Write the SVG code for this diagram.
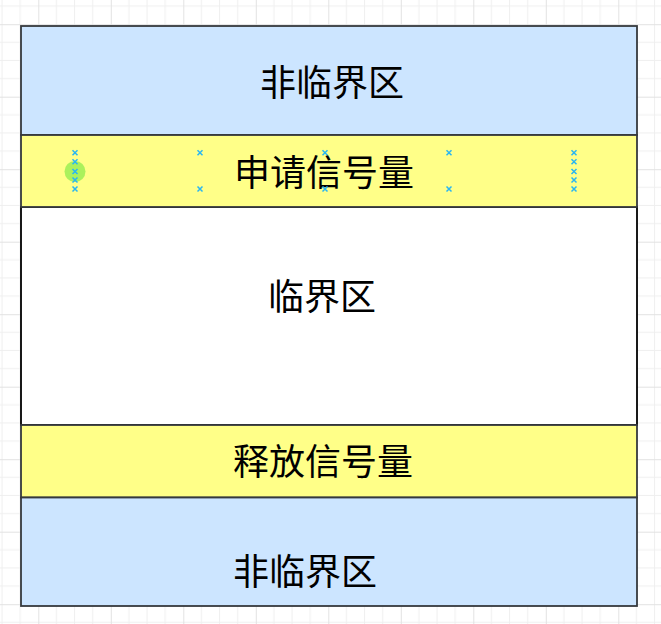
<svg xmlns="http://www.w3.org/2000/svg" width="661" height="624" viewBox="0 0 661 624">
  <defs>
    <pattern id="grid" patternUnits="userSpaceOnUse" x="38.3" y="24.2" width="72.5" height="72.5">
      <path d="M18.125 0V72.5M36.25 0V72.5M54.375 0V72.5M0 18.125H72.5M0 36.25H72.5M0 54.375H72.5" stroke="#efefef" stroke-width="1" fill="none"/>
      <path d="M0.5 0V72.5M0 0.5H72.5" stroke="#e2e2e2" stroke-width="1" fill="none"/>
    </pattern>
    <g id="x">
      <path d="M-2.5 -2.5L2.5 2.5M-2.5 2.5L2.5 -2.5" stroke="#29b6f2" stroke-width="1.5" fill="none"/>
    </g>
  </defs>
  <style>
    .blue { fill: #cce5ff; stroke: #36393d; stroke-width: 1.8; }
    .yellow { fill: #ffff88; stroke: #36393d; stroke-width: 1.8; }
    .white { fill: #ffffff; stroke: #000000; stroke-width: 1.8; }
    .label { font-family: "Noto Sans CJK SC", "Noto Sans", sans-serif; font-size: 36px; fill: #000000; text-anchor: middle; }
  </style>
  <rect x="0" y="0" width="661" height="624" fill="#ffffff"/>
  <rect x="0" y="0" width="661" height="624" fill="url(#grid)"/>

  <g id="node-top">
    <rect class="blue" x="21" y="26" width="616" height="109"/>
    <text class="label" x="332" y="96">非临界区</text>
  </g>
  <g id="node-critical">
    <rect class="white" x="21" y="207" width="616" height="218"/>
    <text class="label" x="322" y="309.5">临界区</text>
  </g>
  <g id="node-request">
    <rect class="yellow" x="21" y="135" width="616" height="72"/>
    <text class="label" x="324" y="185.5">申请信号量</text>
  </g>
  <g id="node-release">
    <rect class="yellow" x="21" y="425" width="616" height="72.5"/>
    <text class="label" x="323" y="475">释放信号量</text>
  </g>
  <g id="node-bottom">
    <rect class="blue" x="21" y="497.5" width="616" height="108.5"/>
    <text class="label" x="305" y="585">非临界区</text>
  </g>

  <g id="connectors"/>

  <g id="handles">
    <circle cx="75" cy="171.5" r="10.5" fill="#8fec4e" fill-opacity="0.75"/>
    <use href="#x" x="75" y="152.7"/>
    <use href="#x" x="75" y="161.7"/>
    <use href="#x" x="75" y="171.5"/>
    <use href="#x" x="75" y="180"/>
    <use href="#x" x="75" y="189"/>
    <use href="#x" x="200" y="152.7"/>
    <use href="#x" x="200" y="189"/>
    <use href="#x" x="325" y="152.7"/>
    <use href="#x" x="325" y="189"/>
    <use href="#x" x="449" y="152.7"/>
    <use href="#x" x="449" y="189"/>
    <use href="#x" x="574" y="152.7"/>
    <use href="#x" x="574" y="161.7"/>
    <use href="#x" x="574" y="171.5"/>
    <use href="#x" x="574" y="180"/>
    <use href="#x" x="574" y="189"/>
  </g>
</svg>
